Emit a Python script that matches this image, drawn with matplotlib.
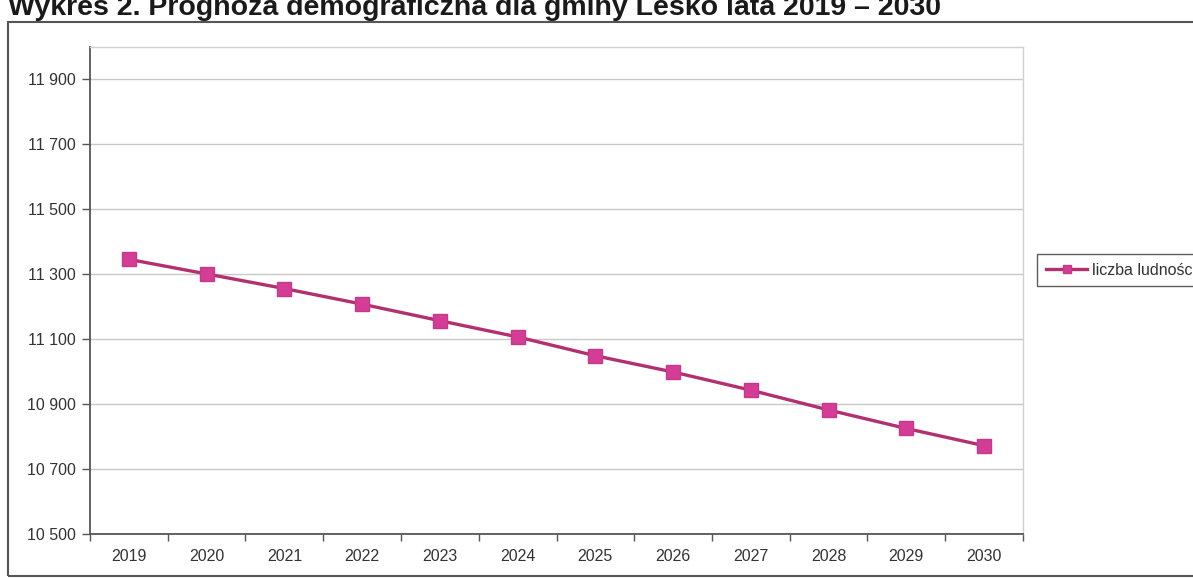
import matplotlib.pyplot as plt
from matplotlib.patches import Rectangle
from matplotlib.ticker import FuncFormatter, FixedLocator

plt.rcParams['font.family'] = ['Liberation Sans', 'DejaVu Sans']

years = ['2019', '2020', '2021', '2022', '2023', '2024',
         '2025', '2026', '2027', '2028', '2029', '2030']
population = [11346, 11301, 11256, 11208, 11157, 11107,
              11049, 10999, 10943, 10882, 10825, 10772]
y_ticks = [10500, 10700, 10900, 11100, 11300, 11500, 11700, 11900]
series_name = 'liczba ludności'
title = 'Wykres 2. Prognoza demograficzna dla gminy Lesko lata 2019 – 2030'

fig = plt.figure(figsize=(11.93, 5.78), dpi=100)
ax = fig.add_axes([90 / 1193, 44 / 578, 933 / 1193, 487 / 578])

x = list(range(len(years)))
ax.plot(x, population, color='#b3306f', lw=2.4, marker='s', markersize=10,
        markerfacecolor='#d43d95', markeredgecolor='#c8388a', label=series_name,
        zorder=3)

ax.set_xlim(-0.5, len(years) - 0.5)
ax.set_ylim(10500, 12000)
ax.set_xticks(x)
ax.set_xticklabels(years)
ax.xaxis.set_minor_locator(FixedLocator([i - 0.5 for i in range(len(years) + 1)]))
ax.tick_params(axis='x', which='major', length=0, pad=11, labelsize=11.5, labelcolor='#333333')
ax.tick_params(axis='x', which='minor', length=5, width=1, color='#555555', direction='out')
ax.set_yticks(y_ticks)
ax.yaxis.set_major_formatter(FuncFormatter(lambda v, p: f'{int(v):,}'.replace(',', ' ')))
ax.tick_params(axis='y', length=6, width=1, color='#555555', labelsize=11.5,
               labelcolor='#333333', pad=4)

ax.grid(axis='y', color='#c8c8c8', lw=1)
ax.set_axisbelow(True)
for side in ['left', 'bottom']:
    ax.spines[side].set_color('#555555')
    ax.spines[side].set_linewidth(1.3)
for side in ['top', 'right']:
    ax.spines[side].set_color('#d0d0d0')
    ax.spines[side].set_linewidth(1)

# outer chart frame
fig.patches.append(Rectangle((8 / 1193, 2 / 578), 1.05, 554 / 578,
                             transform=fig.transFigure, fill=False,
                             edgecolor='#555555', lw=1.5, clip_on=False))

fig.text(8 / 1193, 1 - 15 / 578, title, fontsize=20.5, fontweight='bold',
         color='#1a1a1a', ha='left', va='baseline')

leg = fig.legend(loc='center left', bbox_to_anchor=(1037 / 1193, 1 - 270 / 578),
                 borderaxespad=0, frameon=True, fancybox=False, fontsize=11.5,
                 handlelength=2.6, handletextpad=0.3, markerscale=0.6,
                 borderpad=0.55)
leg.get_frame().set_edgecolor('#333333')
leg.get_frame().set_linewidth(1)
for t in leg.get_texts():
    t.set_color('#333333')

fig.savefig('out.png', dpi=100)
